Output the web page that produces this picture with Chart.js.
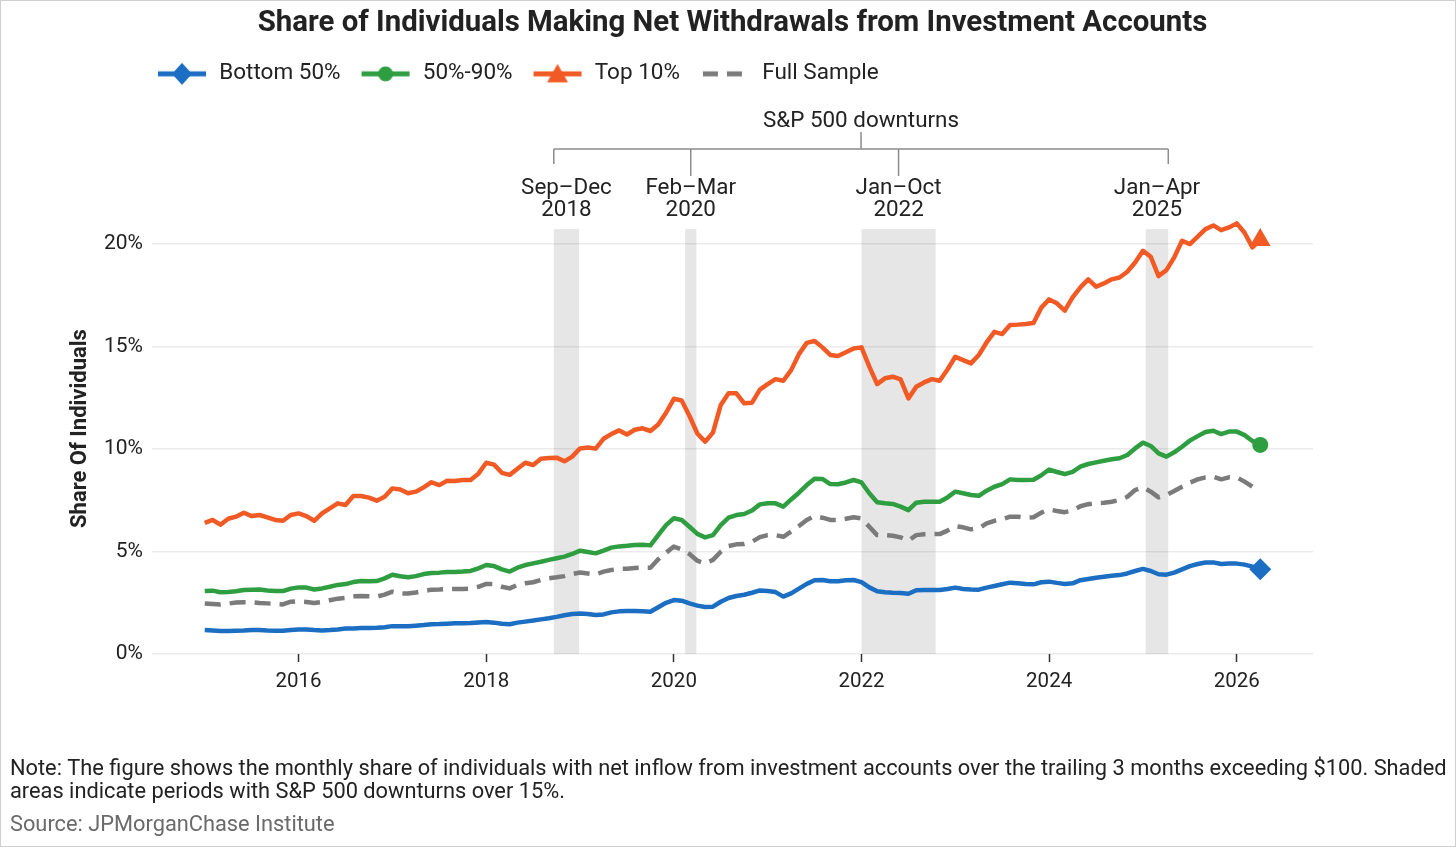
<!DOCTYPE html>
<html>
<head>
<meta charset="utf-8">
<title>Share of Individuals Making Net Withdrawals from Investment Accounts</title>
<script src="https://cdn.jsdelivr.net/npm/chart.js@4.4.1/dist/chart.umd.min.js"></script>
<style>
  html, body { margin: 0; padding: 0; background: #ffffff; }
  #wrap { width: 1456px; height: 847px; position: relative; }
</style>
</head>
<body>
<div id="wrap"><canvas id="chart" width="1456" height="847"></canvas></div>
<script>
// ---------------- DATA ----------------
const chartTitle = 'Share of Individuals Making Net Withdrawals from Investment Accounts';
const yAxisTitle = 'Share Of Individuals';
const seriesNames = ['Bottom 50%', '50%-90%', 'Top 10%', 'Full Sample'];

// monthly observations, first month = January 2015
const firstYear = 2015;

const bottom50 = [
  1.17,1.15,1.12,1.12,1.14,1.15,1.17,1.17,1.15,1.14,1.14,1.17,
  1.20,1.20,1.17,1.15,1.17,1.20,1.24,1.25,1.27,1.27,1.28,1.31,
  1.36,1.35,1.35,1.38,1.41,1.45,1.46,1.48,1.50,1.50,1.51,1.54,
  1.56,1.53,1.48,1.45,1.53,1.58,1.63,1.69,1.74,1.81,1.89,1.95,
  1.98,1.95,1.90,1.93,2.03,2.08,2.10,2.10,2.08,2.06,2.28,2.50,
  2.63,2.60,2.47,2.36,2.29,2.31,2.55,2.73,2.83,2.89,2.99,3.10,
  3.07,3.02,2.80,2.96,3.19,3.42,3.60,3.61,3.55,3.55,3.60,3.61,
  3.51,3.25,3.06,3.01,2.99,2.98,2.94,3.11,3.12,3.12,3.12,3.17,
  3.24,3.17,3.15,3.14,3.24,3.32,3.40,3.48,3.45,3.42,3.40,3.50,
  3.53,3.47,3.42,3.45,3.60,3.66,3.72,3.77,3.82,3.85,3.93,4.05,
  4.15,4.05,3.89,3.87,3.97,4.13,4.29,4.39,4.46,4.47,4.39,4.42,
  4.41,4.36,4.26,4.13
];
const middle50to90 = [
  3.07,3.09,3.01,3.03,3.06,3.12,3.14,3.15,3.10,3.07,3.07,3.19,
  3.25,3.24,3.15,3.20,3.28,3.37,3.41,3.51,3.56,3.55,3.56,3.69,
  3.87,3.79,3.74,3.80,3.90,3.95,3.97,4.00,4.00,4.02,4.05,4.18,
  4.34,4.29,4.13,4.02,4.21,4.34,4.42,4.50,4.59,4.67,4.75,4.88,
  5.04,4.98,4.91,5.04,5.19,5.25,5.28,5.32,5.33,5.30,5.80,6.29,
  6.62,6.54,6.21,5.86,5.69,5.80,6.29,6.65,6.78,6.83,7.00,7.30,
  7.35,7.35,7.19,7.54,7.87,8.24,8.55,8.54,8.29,8.28,8.37,8.49,
  8.37,7.84,7.40,7.35,7.32,7.19,7.02,7.38,7.43,7.43,7.43,7.64,
  7.92,7.84,7.76,7.72,7.97,8.16,8.29,8.52,8.49,8.49,8.50,8.72,
  9.00,8.88,8.78,8.89,9.14,9.27,9.35,9.43,9.50,9.55,9.71,10.03,
  10.31,10.15,9.79,9.63,9.84,10.11,10.41,10.63,10.83,10.89,10.73,10.85,
  10.85,10.68,10.39,10.20
];
const top10 = [
  6.40,6.54,6.31,6.60,6.70,6.89,6.73,6.78,6.67,6.54,6.50,6.78,
  6.86,6.73,6.50,6.86,7.11,7.35,7.27,7.71,7.71,7.63,7.48,7.67,
  8.08,8.03,7.84,7.92,8.13,8.38,8.24,8.45,8.44,8.49,8.49,8.80,
  9.33,9.24,8.84,8.74,9.04,9.33,9.22,9.53,9.56,9.58,9.40,9.63,
  10.03,10.07,10.02,10.50,10.73,10.91,10.71,10.94,11.01,10.88,11.20,11.77,
  12.45,12.37,11.61,10.76,10.36,10.80,12.15,12.72,12.72,12.23,12.26,12.90,
  13.17,13.41,13.33,13.85,14.63,15.18,15.27,14.96,14.59,14.54,14.72,14.91,
  14.96,14.02,13.17,13.45,13.53,13.40,12.47,13.04,13.25,13.41,13.33,13.88,
  14.50,14.34,14.18,14.59,15.20,15.72,15.61,16.05,16.07,16.10,16.15,16.90,
  17.30,17.11,16.75,17.40,17.89,18.28,17.92,18.08,18.28,18.37,18.65,19.10,
  19.67,19.38,18.44,18.73,19.35,20.16,20.00,20.36,20.73,20.91,20.68,20.81,
  21.01,20.55,19.84,20.20
];
const fullSample = [
  2.46,2.44,2.41,2.46,2.51,2.52,2.52,2.49,2.47,2.44,2.42,2.55,
  2.57,2.54,2.49,2.54,2.62,2.70,2.74,2.82,2.83,2.82,2.80,2.90,
  3.04,2.96,2.95,3.00,3.07,3.14,3.15,3.17,3.17,3.17,3.19,3.28,
  3.42,3.41,3.28,3.20,3.37,3.45,3.50,3.61,3.69,3.74,3.80,3.90,
  3.98,3.93,3.88,4.02,4.10,4.15,4.16,4.20,4.21,4.21,4.62,4.94,
  5.24,5.11,4.88,4.55,4.42,4.59,4.99,5.27,5.35,5.37,5.48,5.70,
  5.80,5.80,5.72,5.97,6.24,6.54,6.73,6.65,6.54,6.54,6.60,6.67,
  6.62,6.21,5.80,5.80,5.77,5.69,5.53,5.80,5.84,5.85,5.85,6.02,
  6.24,6.18,6.08,6.13,6.37,6.50,6.57,6.70,6.70,6.65,6.67,6.90,
  7.05,6.98,6.92,7.00,7.21,7.31,7.36,7.38,7.43,7.51,7.67,8.00,
  8.13,7.92,7.64,7.76,7.95,8.16,8.36,8.52,8.62,8.65,8.52,8.62,
  8.62,8.41,8.16,8.16
];

const xTickYears = [2016, 2018, 2020, 2022, 2024, 2026];
const yTickValues = [0, 5, 10, 15, 20];

// S&P 500 downturn periods (decimal years) and their labels
const downturnStart = [2018.72, 2020.12, 2022.00, 2025.03];
const downturnEnd   = [2018.99, 2020.24, 2022.79, 2025.27];
const downturnLabels = [['Sep\u2013Dec', '2018'], ['Feb\u2013Mar', '2020'], ['Jan\u2013Oct', '2022'], ['Jan\u2013Apr', '2025']];
const downturnHeader = 'S&P 500 downturns';
const shadeTopValue = 20.73;

const noteLines = [
  'Note: The figure shows the monthly share of individuals with net inflow from investment accounts over the trailing 3 months exceeding $100. Shaded',
  'areas indicate periods with S&P 500 downturns over 15%.'
];
const sourceLine = 'Source: JPMorganChase Institute';

// ---------------- STYLE ----------------
const COLORS = { blue: '#1b6ec2', green: '#2e9e41', orange: '#f15a24', gray: '#7b7b7b', shade: '#e6e6e6', text: '#222222' };
const FONT = "Roboto, 'Liberation Sans', sans-serif";
Chart.defaults.font.family = FONT;
Chart.defaults.color = COLORS.text;

const monthX = bottom50.map((_, i) => firstYear + i / 12);
const toPoints = arr => arr.map((v, i) => ({ x: monthX[i], y: v }));

function makeIcon(color, marker, dashed) {
  const c = document.createElement('canvas');
  c.width = 52; c.height = 26;
  const g = c.getContext('2d');
  g.strokeStyle = color; g.fillStyle = color; g.lineWidth = 5;
  g.beginPath();
  if (dashed) { g.setLineDash([15, 9]); g.moveTo(4, 13); g.lineTo(48, 13); }
  else { g.moveTo(2, 13); g.lineTo(50, 13); }
  g.stroke();
  g.setLineDash([]);
  g.beginPath();
  if (marker === 'diamond') { g.moveTo(26, 2); g.lineTo(36, 13); g.lineTo(26, 24); g.lineTo(16, 13); g.closePath(); g.fill(); }
  if (marker === 'circle') { g.arc(26, 13, 7.5, 0, Math.PI * 2); g.fill(); }
  if (marker === 'triangle') { g.moveTo(26, 3); g.lineTo(36.5, 21.5); g.lineTo(15.5, 21.5); g.closePath(); g.fill(); }
  return c;
}
const legendIcons = [
  makeIcon(COLORS.blue, 'diamond', false),
  makeIcon(COLORS.green, 'circle', false),
  makeIcon(COLORS.orange, 'triangle', false),
  makeIcon(COLORS.gray, null, true)
];

const lastOnly = r => ctx => (ctx.dataIndex === ctx.dataset.data.length - 1 ? r : 0);

function seriesDataset(label, values, color, style, radius, dash) {
  return {
    label, data: toPoints(values),
    borderColor: color, backgroundColor: color,
    borderWidth: 4.5, borderDash: dash || [], borderJoinStyle: 'round', borderCapStyle: 'butt',
    tension: 0, fill: false,
    pointStyle: style || 'circle', pointRadius: lastOnly(radius || 0),
    pointBackgroundColor: color, pointBorderColor: color, pointBorderWidth: 0,
    pointHoverRadius: 0
  };
}

const decorPlugin = {
  id: 'decor',
  beforeDraw(chart) {
    const { ctx, scales: { x, y } } = chart;
    ctx.save();
    ctx.fillStyle = '#ffffff';
    ctx.fillRect(0, 0, chart.width, chart.height);
    const yTop = y.getPixelForValue(shadeTopValue);
    const yBot = y.getPixelForValue(0);
    ctx.fillStyle = COLORS.shade;
    downturnStart.forEach((s, i) => {
      const x0 = x.getPixelForValue(s);
      const x1 = x.getPixelForValue(downturnEnd[i]);
      ctx.fillRect(x0, yTop, x1 - x0, yBot - yTop);
    });
    ctx.restore();
    if (chart.legend) chart.legend.left = 137;
    if (chart.titleBlock) { chart.titleBlock.left = 9; chart.titleBlock.right = chart.width; }
  },
  afterDraw(chart) {
    const { ctx, chartArea, scales: { x } } = chart;
    const top = chartArea.top;
    ctx.save();
    // bracket
    const n = downturnStart.length;
    const left = x.getPixelForValue(downturnStart[0]);
    const right = x.getPixelForValue(downturnEnd[n - 1]);
    const mids = downturnStart.map((s, i) => x.getPixelForValue((s + downturnEnd[i]) / 2));
    const by = top - 54;
    ctx.strokeStyle = '#8c8c8c';
    ctx.lineWidth = 1.5;
    ctx.beginPath();
    ctx.moveTo(left, by); ctx.lineTo(right, by);
    ctx.moveTo(left, by); ctx.lineTo(left, by + 15);
    ctx.moveTo(right, by); ctx.lineTo(right, by + 15);
    for (let i = 1; i < n - 1; i++) { ctx.moveTo(mids[i], by); ctx.lineTo(mids[i], by + 27); }
    const cx = (left + right) / 2;
    ctx.moveTo(cx, by); ctx.lineTo(cx, by - 17);
    ctx.stroke();
    ctx.fillStyle = COLORS.text;
    ctx.textAlign = 'center';
    ctx.textBaseline = 'middle';
    ctx.font = '22.4px ' + FONT;
    ctx.fillText(downturnHeader, cx, top - 82);
    downturnLabels.forEach((lines, i) => {
      ctx.fillText(lines[0], mids[i], top - 15);
      ctx.fillText(lines[1], mids[i], top + 7);
    });
    // notes
    ctx.textAlign = 'left';
    ctx.font = '21.8px ' + FONT;
    ctx.fillStyle = COLORS.text;
    ctx.fillText(noteLines[0], 10, 770);
    ctx.fillText(noteLines[1], 10, 793);
    ctx.fillStyle = '#6a6a6a';
    ctx.fillText(sourceLine, 10, 826);
    // frame
    ctx.strokeStyle = '#cfcfcf';
    ctx.lineWidth = 1;
    ctx.strokeRect(0.5, 0.5, chart.width - 1, chart.height - 1);
    ctx.restore();
  }
};

new Chart(document.getElementById('chart'), {
  type: 'line',
  data: {
    datasets: [
      seriesDataset(seriesNames[0], bottom50, COLORS.blue, 'rectRot', 11),
      seriesDataset(seriesNames[1], middle50to90, COLORS.green, 'circle', 8),
      seriesDataset(seriesNames[2], top10, COLORS.orange, 'triangle', 12),
      seriesDataset(seriesNames[3], fullSample, COLORS.gray, 'circle', 0, [16, 9])
    ]
  },
  options: {
    responsive: false,
    animation: false,
    events: [],
    layout: { padding: { top: 0, left: 0, right: 143, bottom: 143 } },
    plugins: {
      tooltip: { enabled: false },
      title: {
        display: true, text: chartTitle, color: COLORS.text,
        font: { size: 29.4, weight: 'bold', family: FONT, lineHeight: 1.2 },
        padding: { top: 5.6, bottom: 2.7 }
      },
      legend: {
        display: true, position: 'top', align: 'start', weight: 1000,
        labels: {
          usePointStyle: true, pointStyleWidth: 52, padding: 19,
          font: { size: 22.5, family: FONT }, color: COLORS.text,
          generateLabels(chart) {
            return chart.data.datasets.map((ds, i) => ({
              text: ds.label, pointStyle: legendIcons[i], fillStyle: ds.borderColor,
              strokeStyle: ds.borderColor, lineWidth: 0, hidden: false, datasetIndex: i,
              fontColor: COLORS.text
            }));
          }
        }
      },
      subtitle: {
        display: true, text: '', position: 'top', weight: 500,
        font: { size: 10 }, padding: { top: 0, bottom: 96 }
      }
    },
    scales: {
      x: {
        type: 'linear',
        min: 2014.4375, max: 2026.8125,
        afterBuildTicks: s => { s.ticks = xTickYears.map(v => ({ value: v })); },
        afterFit: s => { s.height = 50; },
        ticks: { callback: v => String(v), font: { size: 20.5 }, color: COLORS.text, padding: 8, maxRotation: 0, autoSkip: false },
        grid: { display: true, drawOnChartArea: false, drawTicks: true, tickLength: 8, tickColor: '#333333', tickWidth: 1.5 },
        border: { display: false }
      },
      y: {
        type: 'linear',
        min: 0, max: 22,
        afterBuildTicks: s => { s.ticks = yTickValues.map(v => ({ value: v })); },
        afterFit: s => { s.width = 152; },
        ticks: { callback: v => v + '%', font: { size: 21 }, color: COLORS.text, padding: 9 },
        grid: { color: 'rgba(0,0,0,0.08)', lineWidth: 1.5, drawTicks: false },
        border: { display: false },
        title: {
          display: true, text: yAxisTitle, color: COLORS.text,
          font: { size: 22, weight: 'bold', lineHeight: 1.2 }, padding: { top: 66.8, bottom: 0 }
        }
      }
    }
  },
  plugins: [decorPlugin]
});
</script>
</body>
</html>
